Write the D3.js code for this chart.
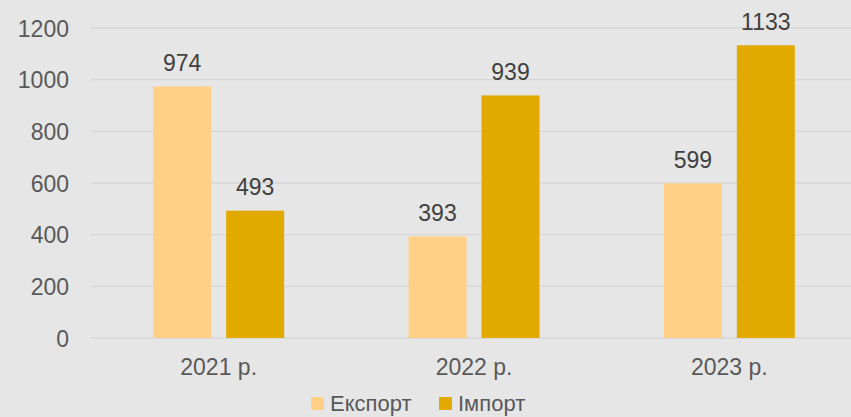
<!DOCTYPE html>
<html><head><meta charset="utf-8">
<script src="https://cdn.jsdelivr.net/npm/d3@7"></script>
<style>html,body{margin:0;padding:0;background:#e6e6e6;overflow:hidden}</style>
</head><body>
<svg id="c" width="851" height="417"></svg>
<script>
const categories = ["2021 р.", "2022 р.", "2023 р."];
const seriesNames = ["Експорт", "Імпорт"];
const exportValues = [974, 393, 599];
const importValues = [493, 939, 1133];
const yTicks = [0, 200, 400, 600, 800, 1000, 1200];
const colors = ["#ffd086", "#e2a900"];

const svg = d3.select("#c");
const W = 851, H = 417;
svg.append("rect").attr("width", W).attr("height", H).attr("fill", "#e6e6e6");
const font = "'Liberation Sans', Arial, sans-serif";

const x0 = d3.scaleBand().domain(categories).range([91, 857]).paddingInner(0).paddingOuter(0);
const y = d3.scaleLinear().domain([0, 1200]).range([338, 28]);
const barW = 58, gap = 15;
const x1 = d3.scaleOrdinal().domain(seriesNames).range([-(barW + gap / 2), gap / 2]);

// grid
svg.append("g").selectAll("line").data(yTicks).join("line")
  .attr("x1", 91).attr("x2", W).attr("y1", d => y(d)).attr("y2", d => y(d))
  .attr("stroke", "#d6d6d6").attr("stroke-width", 1.3);

// y axis labels
const yAxis = d3.axisLeft(y).tickValues(yTicks).tickFormat(d3.format("d")).tickSize(0).tickPadding(0);
const gy = svg.append("g").attr("transform", "translate(69,0)").call(yAxis);
gy.select(".domain").remove();
gy.selectAll("text").attr("font-family", font).attr("font-size", 23).attr("fill", "#595959").attr("dy", "0.36em");

// x axis labels
const xAxis = d3.axisBottom(x0).tickSize(0).tickPadding(0);
const gx = svg.append("g").attr("transform", "translate(0,375)").call(xAxis);
gx.select(".domain").remove();
gx.selectAll("text").attr("font-family", font).attr("font-size", 23).attr("fill", "#595959").attr("dy", 0);

const data = [];
categories.forEach((c, i) => {
  data.push({c, s: seriesNames[0], v: exportValues[i]});
  data.push({c, s: seriesNames[1], v: importValues[i]});
});
const color = d3.scaleOrdinal().domain(seriesNames).range(colors);

svg.append("g").selectAll("rect").data(data).join("rect")
  .attr("x", d => x0(d.c) + x0.bandwidth() / 2 + x1(d.s))
  .attr("width", barW)
  .attr("y", d => y(d.v))
  .attr("height", d => y(0) - y(d.v))
  .attr("fill", d => color(d.s));

svg.append("g").selectAll("text").data(data).join("text")
  .attr("x", d => x0(d.c) + x0.bandwidth() / 2 + x1(d.s) + barW / 2)
  .attr("y", d => y(d.v) - 15.5)
  .attr("text-anchor", "middle")
  .attr("font-family", font).attr("font-size", 23).attr("fill", "#404040")
  .text(d => d.v);

// legend
const legX = [311, 439];
const lg = svg.append("g").selectAll("g").data(seriesNames).join("g")
  .attr("transform", (d, i) => `translate(${legX[i]},397)`);
lg.append("rect").attr("width", 13).attr("height", 13).attr("fill", d => color(d));
lg.append("text").attr("x", 19).attr("y", 14).attr("font-family", font).attr("font-size", 22)
  .attr("fill", "#595959").text(d => d);
</script>
</body></html>
